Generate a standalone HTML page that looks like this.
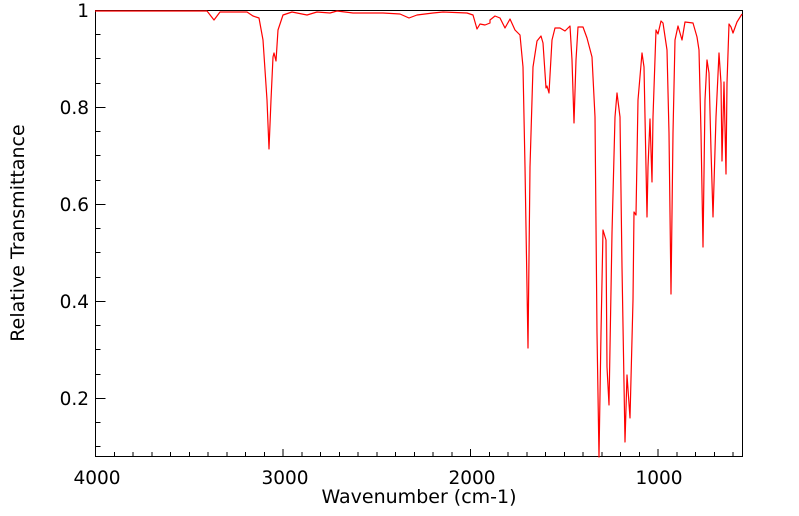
<!DOCTYPE html>
<html><head><style>body{margin:0;background:#fff}svg{display:block}text{font-family:"DejaVu Sans",sans-serif;fill:#000}</style></head>
<body>
<svg width="799" height="516" viewBox="0 0 799 516" xmlns="http://www.w3.org/2000/svg">
<rect x="0" y="0" width="799" height="516" fill="#fff"/>
<g stroke="#000" stroke-width="1" fill="none">
<path d="M95.5 10V457M95.5 398.5h10M95.5 301.5h10M95.5 204.5h10M95.5 107.5h10M95.5 10.5h10M95.5 446.5h5M95.5 349.5h5M95.5 252.5h5M95.5 155.5h5M95.5 58.5h5M95.5 422.5h5M95.5 374.5h5M95.5 325.5h5M95.5 277.5h5M95.5 228.5h5M95.5 180.5h5M95.5 131.5h5M95.5 83.5h5M95.5 34.5h5"/>
<path d="M95.5 456.5H742.5V10.5H95.5"/>
<path d="M95.5 457v-8M283 457v-8M470.5 457v-8M658 457v-8
M114.5 457v-5M133 457v-5M152 457v-5M170.5 457v-5M189.5 457v-5M208 457v-5M227 457v-5M245.5 457v-5M264.5 457v-5
M302 457v-5M320.5 457v-5M339.5 457v-5M358 457v-5M377 457v-5M395.5 457v-5M414.5 457v-5M433 457v-5M452 457v-5
M489.5 457v-5M508 457v-5M527 457v-5M545.5 457v-5M564.5 457v-5M583 457v-5M602 457v-5M620.5 457v-5M639.5 457v-5
M677 457v-5M695.5 457v-5M714.5 457v-5M733 457v-5"/>
</g>
<polyline fill="none" stroke="#f00" stroke-width="1.2" stroke-linejoin="round" points="95,11 133,11 207,11 214,20 220,12 247,12 253,16 259,18 263,40 267,100 269,149 271,100 273,57 274,53 276,61 278,30 283,15 292,12 307,15 317,12 330,13 337,11 353,13 383,13 400,14 409,18 417,15 433,13 443,12 467,13 473,15 477,29 480,24 485,25 490,23 490,20 495,16 500,18 505,28 510,19 515,30 520,35 523,67 525,167 528,348 530,167 533,67 537,41 541,36 543,43 546,88 547,86 549,93 552,40 555,28 560,28 565,31 570,26 572,60 574,123 576,60 578,27 583,27 587,38 592,57 595,117 597,333 599,457 601,333 603,230 606,240 607,367 609,405 612,233 615,117 617,93 620,117 622,267 625,442 627,375 630,418 633,300 634,212 636,215 638,100 642,53 644,67 646,167 647,217 648,167 650,119 652,182 653,117 656,30 658,34 661,21 663,23 667,50 669,133 671,294 673,133 675,40 678,26 682,40 685,22 693,23 697,37 699,50 701,133 703,247 705,100 707,60 709,73 711,150 713,217 716,117 719,53 721,83 722,161 724,82 726,174 727,83 729,24 731,27 733,33 737,22 742,14"/>
<g font-size="18.5" text-anchor="end">
<text x="89" y="17">1</text>
<text x="89" y="114">0.8</text>
<text x="89" y="211">0.6</text>
<text x="89" y="308">0.4</text>
<text x="89" y="405">0.2</text>
</g>
<g font-size="18.5" text-anchor="middle">
<text x="97" y="484">4000</text>
<text x="285" y="484">3000</text>
<text x="472" y="484">2000</text>
<text x="659" y="484">1000</text>
</g>
<g font-size="19" text-anchor="middle">
<text x="419" y="503">Wavenumber (cm-1)</text>
<text transform="translate(24,233) rotate(-90)">Relative Transmittance</text>
</g>
</svg>
</body></html>
